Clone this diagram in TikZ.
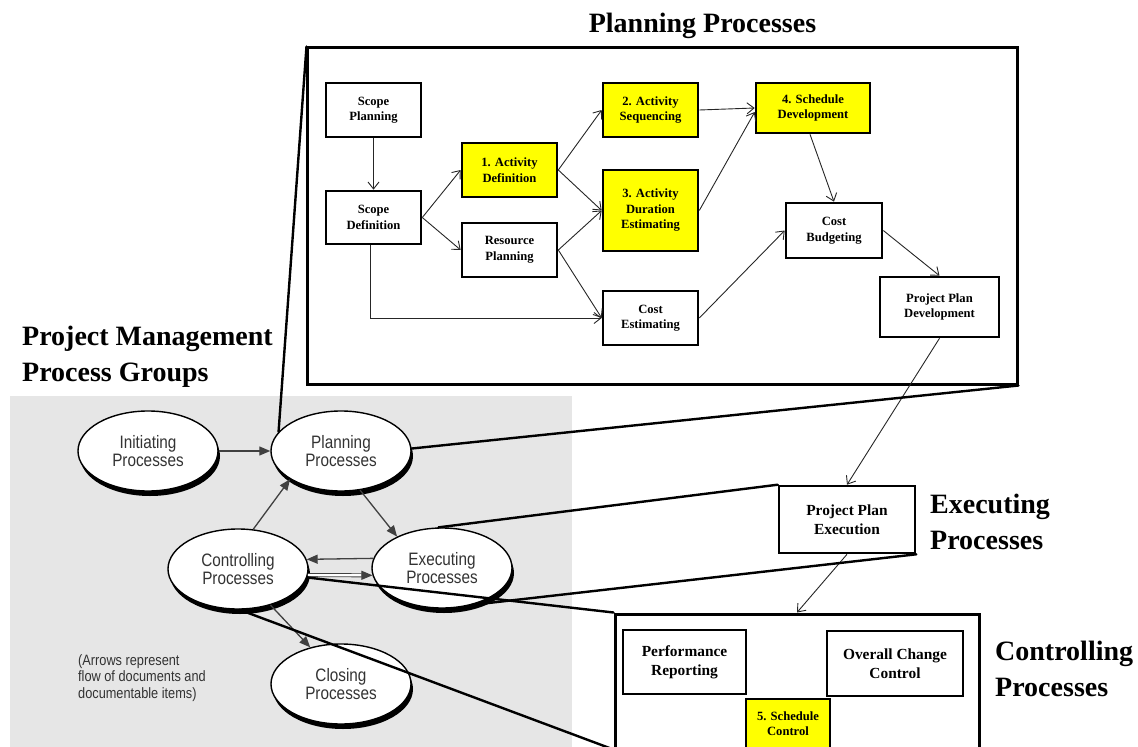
\documentclass[tikz,border=0pt]{standalone}
\usepackage{fontspec}
\setmainfont{Liberation Serif}
\newfontfamily\ellfont[FakeStretch=0.85]{Liberation Sans}
\usetikzlibrary{arrows.meta,shapes.geometric,shadows}
\definecolor{bggray}{HTML}{E6E6E6}
\definecolor{hl}{HTML}{FFFF00}
\definecolor{elltext}{HTML}{333333}
\definecolor{ellline}{HTML}{404040}
\newcommand\pbfont{\bfseries\fontsize{12.6bp}{15.5bp}\selectfont}
\newcommand\cbfont{\bfseries\fontsize{15.4bp}{19bp}\selectfont}
\newcommand\ttlfont{\bfseries\fontsize{28bp}{35.5bp}\selectfont}
\newcommand\elfont{\ellfont\fontsize{18bp}{18.5bp}\selectfont}
\newcommand\notefont{\ellfont\fontsize{15bp}{16.5bp}\selectfont}
\begin{document}
\begin{tikzpicture}[x=1bp,y=-1bp,
  pbox/.style={draw, line width=2.6bp, rectangle, align=center, font=\pbfont, inner sep=1bp},
  cbox/.style={draw, line width=2.6bp, rectangle, align=center, font=\cbfont, inner sep=1bp},
  yel/.style={fill=hl},
  bigbox/.style={draw, line width=3bp, rectangle, inner sep=0},
  ell/.style={ellipse, draw, line width=1.4bp, fill=white, minimum width=140bp, minimum height=80bp,
    font=\elfont, text=elltext, align=center, inner sep=0,
    drop shadow={opacity=1, fill=black, shadow xshift=2bp, shadow yshift=-5bp}},
  parr/.style={-{Straight Barb[length=7bp,width=11bp]}, line width=0.9bp, draw=black!85},
  earr/.style={draw=ellline, line width=1.3bp, -{Triangle[length=11bp,width=9bp]}},
  zoomline/.style={line width=2.4bp, line cap=round},
  ttl/.style={font=\ttlfont, align=left, inner sep=0}
]
\useasboundingbox (0,0) rectangle (1138,747);

% grey panel
\fill[bggray] (10,396) rectangle (572,750);

% titles
\node[ttl, anchor=base] (tplan) at (702.5,33) {Planning Processes};
\node[ttl, anchor=west] (tpm) at (22,357) {Project Management\\Process Groups};
\node[ttl, anchor=west] (texe) at (930,522) {Executing\\Processes};
\node[ttl, anchor=west] (tctl) at (995,669) {Controlling\\Processes};

% big boxes
\node[bigbox, minimum width=709bp, minimum height=336bp] (planbox) at (662.5,216) {};
\node[bigbox, minimum width=364bp, minimum height=134bp] (ctlbox) at (797,681) {};

% planning process boxes
\node[pbox, minimum width=95bp, minimum height=54bp] (sp) at (373.5,110) {Scope\\Planning};
\node[pbox, minimum width=95bp, minimum height=53bp] (sd) at (373.5,217.5) {Scope\\Definition};
\node[pbox, yel, minimum width=95bp, minimum height=54bp] (ad) at (509.5,170) {1. Activity\\Definition};
\node[pbox, minimum width=95bp, minimum height=54bp] (rp) at (509.5,250) {Resource\\Planning};
\node[pbox, yel, minimum width=95bp, minimum height=54bp] (as) at (650.5,110) {2. Activity\\Sequencing};
\node[pbox, yel, minimum width=95bp, minimum height=81bp] (ade) at (650.5,210.5) {3. Activity\\Duration\\Estimating};
\node[pbox, minimum width=95bp, minimum height=54bp] (ce) at (650.5,318) {Cost\\Estimating};
\node[pbox, yel, minimum width=114bp, minimum height=50bp] (sdv) at (813,108) {4. Schedule\\Development};
\node[pbox, minimum width=96bp, minimum height=55bp] (cb) at (834,230.5) {Cost\\Budgeting};
\node[pbox, minimum width=119bp, minimum height=60bp] (ppd) at (939.5,307) {Project Plan\\Development};

% executing / controlling boxes
\node[cbox, minimum width=136bp, minimum height=67bp] (ppe) at (847,519.5) {Project Plan\\Execution};
\node[cbox, minimum width=123bp, minimum height=64bp] (pr) at (684.5,662) {Performance\\Reporting};
\node[cbox, minimum width=136bp, minimum height=65bp] (occ) at (895,663.5) {Overall Change\\Control};
\node[pbox, yel, minimum width=84bp, minimum height=49bp] (sc) at (788,723.5) {5. Schedule\\Control};

% planning connectors
\draw[parr] (sp.south) -- (sd.north);
\draw[parr] (sd.east) -- (ad.west);
\draw[parr] (sd.east) -- (rp.west);
\draw[parr] ([xshift=-3bp]sd.south) |- (ce.west);
\draw[parr] (ad.east) -- (as.west);
\draw[parr] (ad.east) -- (ade.west);
\draw[parr] (rp.east) -- (ade.west);
\draw[parr] (rp.east) -- (ce.west);
\draw[parr] (as.east) -- (sdv.west);
\coordinate (sdvin) at ([yshift=-4bp]sdv.west);
\draw[parr] (ade.east) -- (sdvin);
\draw[parr] (ce.east) -- (cb.west);
\draw[parr] ([xshift=-3bp]sdv.south) -- (cb.north);
\draw[parr] (cb.east) -- (ppd.north);
\draw[parr] (ppd.south) -- (ppe.north);
\draw[parr] (ppe.south) -- (ctlbox.north);

% process group ellipses
\node[ell] (ini) at (148,451) {Initiating\\Processes};
\node[ell] (pl) at (341,451) {Planning\\Processes};
\node[ell] (ctrl) at (238,569) {Controlling\\Processes};
\node[ell] (ex) at (442,568) {Executing\\Processes};
\node[ell] (cl) at (341,684) {Closing\\Processes};

\node[anchor=west, align=left, font=\notefont, text=elltext, inner sep=0] (note) at (78,678)
  {(Arrows represent\\flow of documents and\\documentable items)};

% process group arrows
\draw[earr] (ini.east) -- (pl.west);
\draw[earr] (ctrl.69) -- (pl.209);
\draw[earr] (pl.-64) -- (ex.145);
\draw[earr] (ex.172) -- (ctrl.8);
\draw[earr, double=white, double distance=2.2bp, line width=0.9bp] (ctrl.-5) -- (ex.186);
\draw[earr] (ctrl.-48) -- (cl.130);

% zoom lines
\draw[zoomline] (pl.163) -- (planbox.north west);
\draw[zoomline] (pl.2) -- (planbox.south east);
\draw[zoomline] (ex.95) -- (ppe.north west);
\draw[zoomline] (ex.-51) -- (ppe.south east);
\draw[zoomline] (ctrl.-7) -- (ctlbox.north west);
\draw[zoomline] (ctrl.-88) -- (ctlbox.south west);
\end{tikzpicture}
\end{document}
